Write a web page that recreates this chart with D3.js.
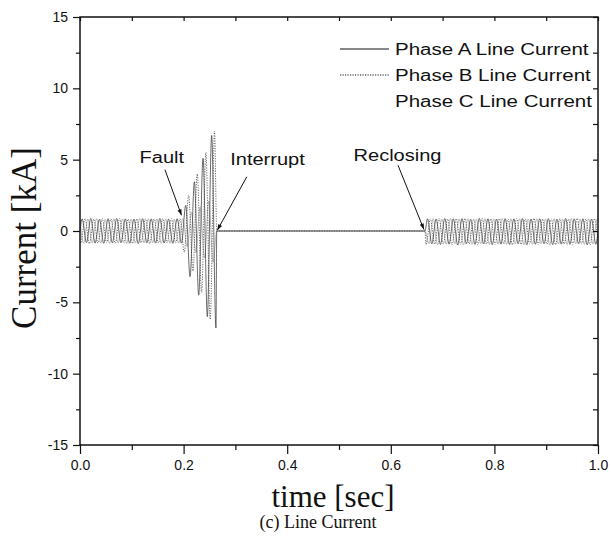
<!DOCTYPE html>
<html>
<head>
<meta charset="utf-8">
<script src="https://cdn.jsdelivr.net/npm/d3@7"></script>
<style>
  body { margin: 0; background: #fff; }
  svg { display: block; }
</style>
</head>
<body>
<svg id="chart" width="611" height="550"></svg>
<script>
// ---------------- DATA ----------------
const seriesNames = ["Phase A Line Current", "Phase B Line Current", "Phase C Line Current"];
const freqHz = 60;
// time (s) of the first current peak/trough of each phase on the 60 Hz grid
const firstExtremum = [0.00417, 0.00139, 0.00694];
// current at t = 0 (kA)
const startValues = [0.0, -0.74, 0.74];
// successive half-cycle peaks (kA), pre-fault and fault period
const peaksA = [0.85,-0.82,0.88,-0.85,0.83,-0.87,0.86,-0.84,0.88,-0.83,0.85,-0.86,0.84,-0.88,0.87,-0.83,0.85,-0.85,0.88,-0.84,0.83,-0.87,0.86,-0.85,
                1.8,-3.2,3.45,-4.5,5.1,-6.0,6.7,-6.8];
const peaksB = [-0.84,0.86,-0.88,0.83,-0.85,0.87,-0.82,0.85,-0.86,0.88,-0.84,0.83,-0.87,0.85,-0.83,0.86,-0.88,0.84,-0.85,0.87,-0.83,0.86,-0.84,0.85,
                -1.5,2.5,-2.8,4.0,-4.3,5.5,-6.2,7.0];
const peaksC = [-0.86,0.84,-0.83,0.87,-0.85,0.82,-0.88,0.86,-0.84,0.85,-0.87,0.83,-0.85,0.88,-0.84,0.86,-0.83,0.85,-0.87,0.84,-0.86,0.83,-0.85,0.87,
                -1.1,1.3,-1.5,1.7,-1.9,2.1,-2.2];
const interruptTime = 0.264;
const recloseTime = 0.666;
// half-cycle index of the first peak after reclosing
const recloseIndex = 80;
// peaks after reclosing (kA)
const postA = [0.86,-0.9,0.84,-0.95,0.88,-0.92,0.85,-0.98,0.87,-0.9,0.83,-0.94,0.88,-0.91,0.86,-0.96,0.84,-0.92,0.87,-0.95,
               0.85,-0.9,0.88,-0.97,0.84,-0.93,0.86,-0.9,0.87,-0.96,0.83,-0.92,0.88,-0.94,0.85,-0.9,0.86,-0.97,0.84,-0.93];
const postB = [-0.95,0.85,-0.92,0.88,-0.9,0.84,-0.97,0.86,-0.93,0.87,-0.9,0.83,-0.96,0.88,-0.92,0.85,-0.94,0.86,-0.9,0.84,
               -0.97,0.87,-0.93,0.85,-0.9,0.88,-0.95,0.84,-0.92,0.86,-0.96,0.87,-0.9,0.83,-0.94,0.88,-0.92,0.85,-0.97,0.86];
const postC = [-0.9,0.87,-0.96,0.84,-0.92,0.88,-0.9,0.85,-0.97,0.86,-0.93,0.83,-0.9,0.87,-0.95,0.84,-0.92,0.88,-0.94,0.85,
               -0.9,0.86,-0.96,0.84,-0.93,0.87,-0.9,0.85,-0.98,0.86,-0.92,0.83,-0.95,0.88,-0.9,0.84,-0.94,0.87,-0.91,0.85];
const endValues = [0.0, -0.74, 0.74];

const xMajorTicks = [0, 0.2, 0.4, 0.6, 0.8, 1.0];
const xTickLabels = ["0.0", "0.2", "0.4", "0.6", "0.8", "1.0"];
const xMinorTicks = [0.1, 0.3, 0.5, 0.7, 0.9];
const yMajorTicks = [-15, -10, -5, 0, 5, 10, 15];
const yTickLabels = ["-15", "-10", "-5", "0", "5", "10", "15"];
const yMinorTicks = [-12.5, -7.5, -2.5, 2.5, 7.5, 12.5];

const annotationTexts = ["Fault", "Interrupt", "Reclosing"];
const xTitle = "time [sec]";
const yTitle = "Current [kA]";
const caption = "(c) Line Current";

// ---------------- LAYOUT ----------------
const svg = d3.select("#chart");
const pL = 80, pR = 598, pT = 17, pB = 445;
const x = d3.scaleLinear().domain([0, 1]).range([pL, pR]);
const y = d3.scaleLinear().domain([-15, 15]).range([pB, pT]);

const sans = "'Liberation Sans', Arial, Helvetica, sans-serif";
const serif = "'Liberation Serif', 'Times New Roman', serif";

// build point lists for each phase
function buildPhase(i, peaks, post) {
  const halfT = 1 / (2 * freqHz);
  const pts = [[0, startValues[i]]];
  peaks.forEach((v, k) => pts.push([firstExtremum[i] + k * halfT, v]));
  pts.push([interruptTime, 0]);
  pts.push([recloseTime, 0]);
  post.forEach((v, k) => pts.push([firstExtremum[i] + (recloseIndex + k) * halfT, v]));
  pts.push([1.0, endValues[i]]);
  return pts;
}
const phases = [
  buildPhase(0, peaksA, postA),
  buildPhase(1, peaksB, postB),
  buildPhase(2, peaksC, postC)
];
const lineStyles = [
  { stroke: "#3a3a3a", width: 0.75, dash: null },
  { stroke: "#444", width: 0.8, dash: "1.2,1.3" },
  { stroke: "#8a8a8a", width: 0.6, dash: null }
];

const defs = svg.append("defs");
defs.append("clipPath").attr("id", "clip")
  .append("rect").attr("x", pL).attr("y", pT).attr("width", pR - pL).attr("height", pB - pT);
defs.append("marker")
  .attr("id", "arrow").attr("viewBox", "0 0 10 10").attr("refX", 10).attr("refY", 5)
  .attr("markerWidth", 7).attr("markerHeight", 6).attr("orient", "auto-start-reverse")
  .attr("markerUnits", "userSpaceOnUse")
  .append("path").attr("d", "M0,1.5 L10,5 L0,8.5 Z").attr("fill", "#111");

const line = d3.line().x(d => x(d[0])).y(d => y(d[1])).curve(d3.curveMonotoneX);
const plot = svg.append("g").attr("clip-path", "url(#clip)");
[2, 1, 0].forEach(i => {
  plot.append("path").datum(phases[i])
    .attr("d", line).attr("fill", "none")
    .attr("stroke", lineStyles[i].stroke)
    .attr("stroke-width", lineStyles[i].width)
    .attr("stroke-dasharray", lineStyles[i].dash);
});

// ---------------- AXES ----------------
function styleAxis(g) {
  g.select(".domain").remove();
  g.selectAll("line").attr("stroke", "#111").attr("stroke-width", 1.2);
  g.selectAll("text").attr("fill", "#111").style("font-family", sans).style("font-size", "14px");
}
svg.append("g").attr("transform", `translate(0,${pB})`)
  .call(d3.axisBottom(x).tickValues(xMajorTicks).tickSize(9).tickPadding(6)
    .tickFormat((d, i) => xTickLabels[i])).call(styleAxis);
svg.append("g").attr("transform", `translate(0,${pB})`)
  .call(d3.axisBottom(x).tickValues(xMinorTicks).tickSize(5).tickFormat("")).call(styleAxis);
svg.append("g").attr("transform", `translate(0,${pT})`)
  .call(d3.axisTop(x).tickValues(xMinorTicks.concat(xMajorTicks)).tickSize(-4).tickFormat("")).call(styleAxis);
svg.append("g").attr("transform", `translate(${pL},0)`)
  .call(d3.axisLeft(y).tickValues(yMajorTicks).tickSize(7).tickPadding(5)
    .tickFormat((d, i) => yTickLabels[i])).call(styleAxis);
svg.append("g").attr("transform", `translate(${pL},0)`)
  .call(d3.axisLeft(y).tickValues(yMinorTicks).tickSize(4).tickFormat("")).call(styleAxis);
svg.append("g").attr("transform", `translate(${pR},0)`)
  .call(d3.axisRight(y).tickValues(yMajorTicks.concat(yMinorTicks)).tickSize(-5).tickFormat("")).call(styleAxis);

svg.append("rect").attr("x", pL).attr("y", pT).attr("width", pR - pL).attr("height", pB - pT)
  .attr("fill", "none").attr("stroke", "#111").attr("stroke-width", 1.5);

// ---------------- LEGEND ----------------
const legend = svg.append("g");
const legendY = [49, 75, 101];
seriesNames.forEach((name, i) => {
  if (i < 2) {
    legend.append("line").attr("x1", 340).attr("x2", 389).attr("y1", legendY[i]).attr("y2", legendY[i])
      .attr("stroke", "#111").attr("stroke-width", 1)
      .attr("stroke-dasharray", lineStyles[i].dash);
  }
  legend.append("text").attr("class", "stretch").attr("data-k", 1.28)
    .attr("x", 395).attr("y", legendY[i]).attr("dy", "0.36em")
    .style("font-family", sans).style("font-size", "16px").attr("fill", "#111").text(name);
});

// ---------------- ANNOTATIONS ----------------
const annotPos = [
  { tx: 0.158, ty: 5.2, x1: 0.164, y1: 4.3, x2: 0.196, y2: 1.1 },
  { tx: 0.362, ty: 5.0, x1: 0.322, y1: 3.8, x2: 0.265, y2: 0.05 },
  { tx: 0.613, ty: 5.3, x1: 0.614, y1: 4.6, x2: 0.664, y2: 0.1 }
];
annotationTexts.forEach((t, i) => {
  const p = annotPos[i];
  svg.append("text").attr("class", "stretch").attr("data-k", 1.25)
    .attr("x", x(p.tx)).attr("y", y(p.ty)).attr("dy", "0.36em")
    .attr("text-anchor", "middle").style("font-family", sans).style("font-size", "16px")
    .attr("fill", "#111").text(t);
  svg.append("line").attr("x1", x(p.x1)).attr("y1", y(p.y1)).attr("x2", x(p.x2)).attr("y2", y(p.y2))
    .attr("stroke", "#111").attr("stroke-width", 1).attr("marker-end", "url(#arrow)");
});

// ---------------- TITLES ----------------
svg.append("text").attr("x", 333).attr("y", 507).attr("text-anchor", "middle")
  .style("font-family", serif).style("font-size", "31px").attr("fill", "#111").text(xTitle);
svg.append("text").attr("transform", `translate(36,${238}) rotate(-90)`)
  .attr("text-anchor", "middle").style("font-family", serif).style("font-size", "35px")
  .attr("fill", "#111").text(yTitle);
svg.append("text").attr("x", 318).attr("y", 528).attr("text-anchor", "middle")
  .style("font-family", serif).style("font-size", "18px").attr("fill", "#111").text(caption);

// widen the sans labels like the scanned original
svg.selectAll("text.stretch").each(function() {
  const len = this.getComputedTextLength();
  const k = +this.getAttribute("data-k");
  d3.select(this).attr("textLength", len * k).attr("lengthAdjust", "spacingAndGlyphs");
});
</script>
</body>
</html>
